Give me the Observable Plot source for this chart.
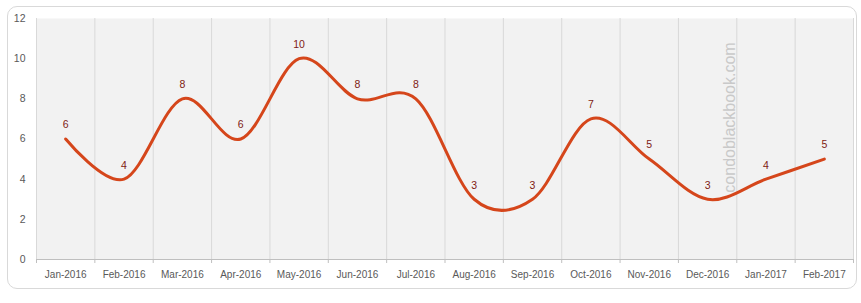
<!DOCTYPE html>
<html><head><meta charset="utf-8">
<script src="https://cdn.jsdelivr.net/npm/d3@7"></script>
<script src="https://cdn.jsdelivr.net/npm/@observablehq/plot@0.6"></script>
<style>
body{margin:0;background:#fff;}
#wrap{position:relative;width:861px;height:303px;}
#border{position:absolute;left:7px;top:6px;width:848px;height:281px;border:1.5px solid #d9d9d9;border-radius:10px;pointer-events:none;}
</style></head>
<body><div id="wrap"><div id="border"></div></div>
<script>
const months = ["Jan-2016","Feb-2016","Mar-2016","Apr-2016","May-2016","Jun-2016","Jul-2016","Aug-2016","Sep-2016","Oct-2016","Nov-2016","Dec-2016","Jan-2017","Feb-2017"];
const values = [6,4,8,6,10,8,8,3,3,7,5,3,4,5];
const yTicks = [0,2,4,6,8,10,12];
const watermark = "condoblackbook.com";

const data = months.map((m,i)=>({i, m, v: values[i]}));
const bounds = d3.range(-0.5, months.length, 1);
const font = "Liberation Sans, Arial, sans-serif";

const chart = Plot.plot({
  width: 861, height: 303,
  marginLeft: 36, marginRight: 8, marginTop: 18, marginBottom: 44,
  style: {fontFamily: font, background: "transparent"},
  x: {domain: [-0.5, months.length - 0.5], axis: null, label: null},
  y: {domain: [0, 12], axis: null, label: null},
  marks: [
    Plot.frame({fill: "#f2f2f2", stroke: null}),
    Plot.ruleX(bounds, {stroke: "#d9d9d9", strokeWidth: 1}),
    Plot.ruleY([0], {stroke: "#bfbfbf", strokeWidth: 1.2}),
    Plot.axisX({ticks: bounds, tickSize: 4, tickFormat: () => "", stroke: "#bfbfbf", label: null}),
    Plot.axisX({ticks: d3.range(months.length), tickSize: 0, tickPadding: 11, tickFormat: i => months[i], fill: "#595959", fontSize: 10, label: null}),
    Plot.axisY({ticks: yTicks, tickSize: 0, tickPadding: 11, fill: "#595959", fontSize: 10.5, label: null}),
    Plot.text([watermark], {x: () => 11.39, y: () => 7.07, rotate: -90, fill: "#c9c9c9", fontSize: 16, text: d => d}),
    Plot.line(data, {x: "i", y: "v", curve: "cardinal", stroke: "#d5461b", strokeWidth: 3}),
    Plot.text(data, {x: "i", y: "v", text: d => String(d.v), dy: -14, fill: "#7f1a12", fontSize: 10.5})
  ]
});
document.getElementById("wrap").prepend(chart);
</script></body></html>
